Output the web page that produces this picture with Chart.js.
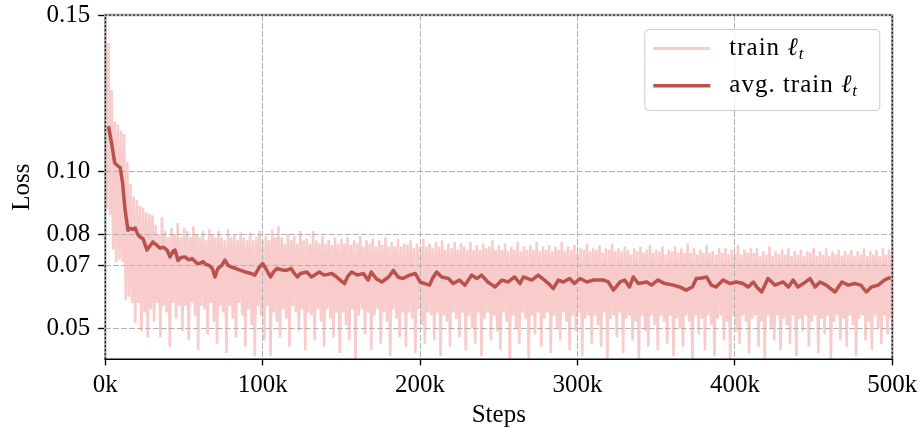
<!DOCTYPE html>
<html>
<head>
<meta charset="utf-8">
<script src="https://cdn.jsdelivr.net/npm/chart.js@4.4.0/dist/chart.umd.min.js"></script>
<style>
  html, body { margin: 0; padding: 0; background: #fff; }
</style>
</head>
<body>
<canvas id="lossChart" width="921" height="433"></canvas>
<script>
// Axis ticks (x in thousands of steps)
const xTicks = [0, 100, 200, 300, 400, 500];
const yTicks = [0.05, 0.07, 0.08, 0.10, 0.15];

// Raw training loss, logged every 1k steps from 0 to 500k
const trainStepK = 1;
const trainLoss = [
  // 0k - 30k
  0.150, 0.088, 0.141, 0.086, 0.126, 0.075, 0.116, 0.071, 0.115, 0.072,
  0.113, 0.071, 0.112, 0.059, 0.103, 0.060, 0.096, 0.058, 0.092, 0.0515,
  0.091, 0.058, 0.089, 0.049, 0.0885, 0.055, 0.087, 0.047, 0.0865, 0.056,
  0.086,
  // 31k - 50k
  0.052, 0.083, 0.058, 0.080, 0.047, 0.0854, 0.057, 0.081, 0.055, 0.079,
  0.044, 0.082, 0.058, 0.080, 0.053, 0.0835, 0.057, 0.079, 0.049, 0.082,
  // 51k - 70k
  0.057, 0.081, 0.046, 0.079, 0.058, 0.0825, 0.054, 0.080, 0.043, 0.079,
  0.057, 0.081, 0.056, 0.078, 0.048, 0.0815, 0.058, 0.080, 0.052, 0.079,
  // 71k - 90k
  0.045, 0.081, 0.057, 0.079, 0.055, 0.078, 0.042, 0.0815, 0.057, 0.079,
  0.053, 0.080, 0.047, 0.078, 0.058, 0.0805, 0.054, 0.079, 0.044, 0.078,
  // 91k - 110k
  0.056, 0.0805, 0.051, 0.078, 0.041, 0.079, 0.057, 0.081, 0.054, 0.078,
  0.046, 0.0795, 0.057, 0.078, 0.041, 0.0815, 0.055, 0.079, 0.052, 0.0825,
  // 111k - 130k
  0.047, 0.079, 0.056, 0.077, 0.053, 0.080, 0.044, 0.078, 0.057, 0.0795,
  0.055, 0.077, 0.049, 0.081, 0.056, 0.078, 0.043, 0.0785, 0.055, 0.077,
  // 131k - 150k
  0.054, 0.081, 0.046, 0.078, 0.056, 0.077, 0.052, 0.0795, 0.044, 0.077,
  0.056, 0.078, 0.053, 0.0765, 0.047, 0.079, 0.055, 0.077, 0.042, 0.0785,
  // 151k - 170k
  0.055, 0.077, 0.051, 0.079, 0.046, 0.0765, 0.056, 0.078, 0.040, 0.077,
  0.054, 0.0795, 0.056, 0.076, 0.048, 0.078, 0.055, 0.077, 0.043, 0.0785,
  // 171k - 190k
  0.054, 0.076, 0.056, 0.078, 0.045, 0.0765, 0.055, 0.079, 0.052, 0.076,
  0.041, 0.0775, 0.056, 0.076, 0.053, 0.0785, 0.047, 0.076, 0.055, 0.077,
  // 191k - 210k
  0.044, 0.0765, 0.055, 0.078, 0.053, 0.0755, 0.042, 0.077, 0.056, 0.076,
  0.051, 0.0785, 0.045, 0.076, 0.055, 0.077, 0.054, 0.0755, 0.046, 0.0775,
  // 211k - 230k
  0.055, 0.076, 0.041, 0.078, 0.054, 0.075, 0.052, 0.077, 0.044, 0.0755,
  0.055, 0.0775, 0.053, 0.075, 0.047, 0.077, 0.055, 0.076, 0.043, 0.075,
  // 231k - 250k
  0.054, 0.0775, 0.050, 0.075, 0.045, 0.0765, 0.055, 0.075, 0.041, 0.077,
  0.053, 0.0755, 0.055, 0.076, 0.046, 0.078, 0.054, 0.075, 0.049, 0.0765,
  // 251k - 270k
  0.043, 0.075, 0.055, 0.077, 0.052, 0.0745, 0.039, 0.076, 0.054, 0.075,
  0.050, 0.0775, 0.045, 0.0745, 0.055, 0.076, 0.053, 0.075, 0.040, 0.0765,
  // 271k - 290k
  0.054, 0.075, 0.048, 0.0775, 0.055, 0.0745, 0.044, 0.076, 0.053, 0.075,
  0.055, 0.0765, 0.042, 0.0745, 0.054, 0.076, 0.050, 0.075, 0.046, 0.0775,
  // 291k - 310k
  0.055, 0.0745, 0.052, 0.076, 0.043, 0.075, 0.054, 0.0765, 0.049, 0.074,
  0.055, 0.0755, 0.041, 0.075, 0.053, 0.077, 0.054, 0.0745, 0.045, 0.0755,
  // 311k - 330k
  0.054, 0.075, 0.051, 0.0765, 0.044, 0.074, 0.055, 0.0755, 0.040, 0.075,
  0.053, 0.077, 0.054, 0.0745, 0.047, 0.0755, 0.055, 0.0745, 0.042, 0.076,
  // 331k - 350k
  0.053, 0.075, 0.054, 0.0735, 0.046, 0.0755, 0.052, 0.0745, 0.040, 0.076,
  0.054, 0.074, 0.049, 0.075, 0.044, 0.0765, 0.054, 0.074, 0.051, 0.075,
  // 351k - 370k
  0.043, 0.0745, 0.054, 0.076, 0.052, 0.0735, 0.045, 0.075, 0.054, 0.0745,
  0.041, 0.076, 0.053, 0.074, 0.050, 0.0755, 0.044, 0.074, 0.054, 0.0771,
  // 371k - 390k
  0.052, 0.074, 0.040, 0.0755, 0.054, 0.0735, 0.048, 0.075, 0.053, 0.074,
  0.043, 0.0765, 0.054, 0.074, 0.051, 0.0745, 0.041, 0.0735, 0.053, 0.0755,
  // 391k - 410k
  0.054, 0.074, 0.046, 0.0755, 0.052, 0.0735, 0.040, 0.075, 0.054, 0.074,
  0.049, 0.0765, 0.045, 0.0735, 0.054, 0.075, 0.052, 0.074, 0.042, 0.0755,
  // 411k - 430k
  0.053, 0.074, 0.054, 0.0755, 0.044, 0.073, 0.052, 0.0745, 0.040, 0.0735,
  0.054, 0.076, 0.050, 0.073, 0.046, 0.0745, 0.054, 0.0735, 0.043, 0.075,
  // 431k - 450k
  0.053, 0.0735, 0.051, 0.0755, 0.045, 0.073, 0.054, 0.0745, 0.041, 0.0735,
  0.053, 0.075, 0.049, 0.073, 0.054, 0.0745, 0.044, 0.074, 0.052, 0.0755,
  // 451k - 470k
  0.054, 0.073, 0.042, 0.0745, 0.053, 0.0735, 0.048, 0.0755, 0.054, 0.073,
  0.040, 0.0745, 0.052, 0.0735, 0.054, 0.075, 0.046, 0.073, 0.053, 0.0745,
  // 471k - 490k
  0.044, 0.0735, 0.054, 0.075, 0.051, 0.073, 0.041, 0.0745, 0.053, 0.0735,
  0.054, 0.0755, 0.046, 0.073, 0.052, 0.0745, 0.043, 0.0735, 0.054, 0.075,
  // 491k - 500k
  0.050, 0.073, 0.045, 0.0755, 0.054, 0.0735, 0.048, 0.075, 0.053, 0.0745
];

// Running average of the training loss
const avgStepsK = [
  2, 4, 6, 8, 9.5, 11, 12.5, 14.4, 16, 17.5,
  19, 20.5, 22, 24, 26.5, 28, 30.3, 32.5, 34.8, 37,
  39.2, 41.1, 43, 44.3, 46.2, 48, 50.6, 53, 55.1, 58.3,
  60, 62, 64, 66, 68, 69.7, 71.5, 74, 76, 78,
  80, 83, 86, 89, 92, 95, 98, 100, 102, 105,
  107, 109, 112, 115, 118, 120, 122, 124, 128, 131,
  136, 139, 144, 147, 150, 152, 154, 156.5, 160, 164,
  167, 169, 172, 175.6, 180, 183, 186, 189, 193, 197,
  200, 203, 206, 208, 210.5, 213.7, 218, 221, 225, 228.5,
  232.8, 236, 239, 243, 245, 247.6, 252, 256, 260, 263.5,
  265.6, 271, 275, 279, 282, 284.6, 287.8, 291, 295, 298,
  301.6, 306, 310, 316.5, 319.6, 322.8, 327, 330, 333, 335.5,
  338.6, 344, 347, 351, 355.6, 361, 365, 369, 373, 375.5,
  379, 382, 385, 388, 392.5, 396.8, 401, 405, 408.5, 411.7,
  414, 417, 421, 425.5, 430.7, 434, 437, 440, 443.5, 447.7,
  451, 454, 458, 461, 463.6, 468, 472, 476, 480, 483.5,
  486.7, 491, 495, 497, 499
];
const avgLoss = [
  0.1145, 0.109, 0.1027, 0.1018, 0.1012, 0.0963, 0.088, 0.0812, 0.0818, 0.0815,
  0.0819, 0.0800, 0.0791, 0.0785, 0.0749, 0.076, 0.0775, 0.0765, 0.0755, 0.0758,
  0.0749, 0.0727, 0.0745, 0.0749, 0.0716, 0.0725, 0.0727, 0.0718, 0.0722, 0.0707,
  0.0706, 0.0712, 0.0703, 0.0700, 0.0690, 0.0663, 0.0690, 0.0700, 0.0717, 0.0700,
  0.0695, 0.0690, 0.0684, 0.0679, 0.0675, 0.0669, 0.0695, 0.0706, 0.0690, 0.0663,
  0.0680, 0.0690, 0.0686, 0.0684, 0.0690, 0.0675, 0.0663, 0.0674, 0.0679, 0.0663,
  0.0679, 0.0669, 0.0674, 0.0663, 0.0650, 0.0642, 0.0665, 0.0679, 0.0669, 0.0674,
  0.0653, 0.0679, 0.0658, 0.0647, 0.0663, 0.0684, 0.0663, 0.0658, 0.0668, 0.0674,
  0.0647, 0.0642, 0.0637, 0.0660, 0.0679, 0.0663, 0.0658, 0.0642, 0.0653, 0.0637,
  0.0669, 0.0658, 0.0669, 0.0647, 0.0640, 0.0631, 0.0653, 0.0647, 0.0663, 0.0642,
  0.0663, 0.0653, 0.0669, 0.0653, 0.0640, 0.0626, 0.0653, 0.0647, 0.0658, 0.0642,
  0.0658, 0.0647, 0.0653, 0.0653, 0.0647, 0.0621, 0.0647, 0.0653, 0.0631, 0.0663,
  0.0642, 0.0647, 0.0637, 0.0653, 0.0642, 0.0637, 0.0631, 0.0621, 0.0631, 0.0658,
  0.0660, 0.0663, 0.0637, 0.0631, 0.0653, 0.0642, 0.0647, 0.0642, 0.0631, 0.0647,
  0.0630, 0.0615, 0.0658, 0.0637, 0.0647, 0.0631, 0.0653, 0.0631, 0.0642, 0.0658,
  0.0631, 0.0647, 0.0637, 0.0625, 0.0615, 0.0647, 0.0637, 0.0642, 0.0637, 0.0615,
  0.0631, 0.0637, 0.0653, 0.0658, 0.0662
];

const SERIF = "'Liberation Serif', 'DejaVu Serif', serif";
const TRAIN_COLOR = 'rgb(247, 204, 203)';
const AVG_COLOR = 'rgb(185, 82, 77)';
const GRID_COLOR = '#b0b0b0';

const trainPoints = trainLoss.map((v, i) => ({ x: i * trainStepK, y: v }));
const avgPoints = avgStepsK.map((s, i) => ({ x: s, y: avgLoss[i] }));

// Grid sits above the raw-loss band but below the running average
const gridBetween = {
  id: 'gridBetween',
  beforeDatasetDraw(chart, args) {
    if (args.index !== 1) return;
    chart.scales.x.drawGrid(chart.chartArea);
    chart.scales.y.drawGrid(chart.chartArea);
  }
};

// Axes frame: dotted spines on top/left/right over a grey rule, solid bottom spine
const framePlugin = {
  id: 'frame',
  afterDatasetsDraw(chart) {
    const { ctx, chartArea: a } = chart;
    ctx.save();
    const outline = () => {
      ctx.beginPath();
      ctx.moveTo(a.left, a.bottom);
      ctx.lineTo(a.left, a.top);
      ctx.lineTo(a.right, a.top);
      ctx.lineTo(a.right, a.bottom);
      ctx.stroke();
    };
    ctx.lineWidth = 2.5;
    ctx.strokeStyle = GRID_COLOR;
    outline();
    ctx.setLineDash([2, 2]);
    ctx.lineWidth = 1.2;
    ctx.strokeStyle = '#000';
    outline();
    ctx.setLineDash([]);
    ctx.lineWidth = 1.4;
    ctx.beginPath();
    ctx.moveTo(a.left - 0.7, a.bottom);
    ctx.lineTo(a.right + 0.7, a.bottom);
    ctx.stroke();
    ctx.restore();
  }
};

// Legend box in the upper-right corner of the plot
const legendEntries = [
  { text: 'train ', sym: '\u2113', sub: 't', color: TRAIN_COLOR, width: 2.8 },
  { text: 'avg. train ', sym: '\u2113', sub: 't', color: AVG_COLOR, width: 3.4 }
];
const legendPlugin = {
  id: 'cornerLegend',
  afterDraw(chart) {
    const { ctx, chartArea: a } = chart;
    const w = 235, h = 81;
    const x0 = a.right - 13 - w, y0 = a.top + 14;
    ctx.save();
    ctx.beginPath();
    ctx.roundRect(x0 + 0.5, y0 + 0.5, w, h, 4);
    ctx.fillStyle = 'rgba(255,255,255,0.8)';
    ctx.fill();
    ctx.strokeStyle = '#cccccc';
    ctx.lineWidth = 1;
    ctx.stroke();
    ctx.letterSpacing = '1px';
    legendEntries.forEach((e, i) => {
      const ly = y0 + 19.5 + i * 37.2;
      ctx.strokeStyle = e.color;
      ctx.lineWidth = e.width;
      ctx.beginPath();
      ctx.moveTo(x0 + 9, ly);
      ctx.lineTo(x0 + 66, ly);
      ctx.stroke();
      const base = ly + 6;
      let tx = x0 + 85;
      ctx.fillStyle = '#000';
      ctx.textBaseline = 'alphabetic';
      ctx.textAlign = 'left';
      ctx.font = `25px ${SERIF}`;
      ctx.fillText(e.text, tx, base);
      tx += ctx.measureText(e.text).width;
      ctx.font = `italic 25px ${SERIF}`;
      ctx.fillText(e.sym, tx, base);
      tx += ctx.measureText(e.sym).width;
      ctx.font = `italic 17px ${SERIF}`;
      ctx.fillText(e.sub, tx, base + 4);
    });
    ctx.restore();
  }
};

new Chart(document.getElementById('lossChart'), {
  type: 'line',
  data: {
    datasets: [
      {
        label: 'train \u2113t',
        data: trainPoints,
        borderColor: TRAIN_COLOR,
        borderWidth: 2.6,
        pointRadius: 0,
        tension: 0,
        order: 2,
        clip: 0
      },
      {
        label: 'avg. train \u2113t',
        data: avgPoints,
        borderColor: AVG_COLOR,
        borderWidth: 3.5,
        pointRadius: 0,
        tension: 0,
        borderJoinStyle: 'round',
        order: 1,
        clip: 0
      }
    ]
  },
  options: {
    responsive: false,
    animation: false,
    events: [],
    layout: { padding: { left: 0, right: 28.7, top: 15, bottom: 0 } },
    plugins: {
      legend: { display: false },
      tooltip: { enabled: false }
    },
    scales: {
      x: {
        type: 'linear',
        min: 0,
        max: 500,
        afterBuildTicks: s => { s.ticks = xTicks.map(v => ({ value: v })); },
        afterFit: s => { s.height = 73.7; s.paddingLeft = 0; s.paddingRight = 0; },
        ticks: {
          callback: v => v + 'k',
          autoSkip: false,
          maxRotation: 0,
          padding: 5,
          color: '#000',
          font: { family: SERIF, size: 25 }
        },
        grid: {
          color: GRID_COLOR,
          lineWidth: 1,
          tickLength: 6,
          tickColor: '#000',
          tickWidth: 1.2,
          tickBorderDash: []
        },
        border: { display: false, dash: [5.5, 2.5] },
        title: {
          display: true,
          text: 'Steps',
          color: '#000',
          font: { family: SERIF, size: 25 },
          padding: { top: 0, bottom: 2.5 }
        }
      },
      y: {
        type: 'linear',
        min: 0.04,
        max: 0.15,
        afterBuildTicks: s => { s.ticks = yTicks.map(v => ({ value: v })); },
        afterFit: s => { s.width = 105.3; s.paddingTop = 0; s.paddingBottom = 0; },
        ticks: {
          callback: v => v.toFixed(2),
          padding: 8,
          color: '#000',
          font: { family: SERIF, size: 25 }
        },
        grid: {
          color: GRID_COLOR,
          lineWidth: 1,
          tickLength: 7,
          tickColor: '#000',
          tickWidth: 1.2,
          tickBorderDash: []
        },
        border: { display: false, dash: [5.5, 2.5] },
        title: {
          display: true,
          text: 'Loss',
          color: '#000',
          font: { family: SERIF, size: 25 },
          padding: { top: 7.6, bottom: 0 }
        }
      }
    }
  },
  plugins: [gridBetween, framePlugin, legendPlugin]
});
</script>
</body>
</html>
